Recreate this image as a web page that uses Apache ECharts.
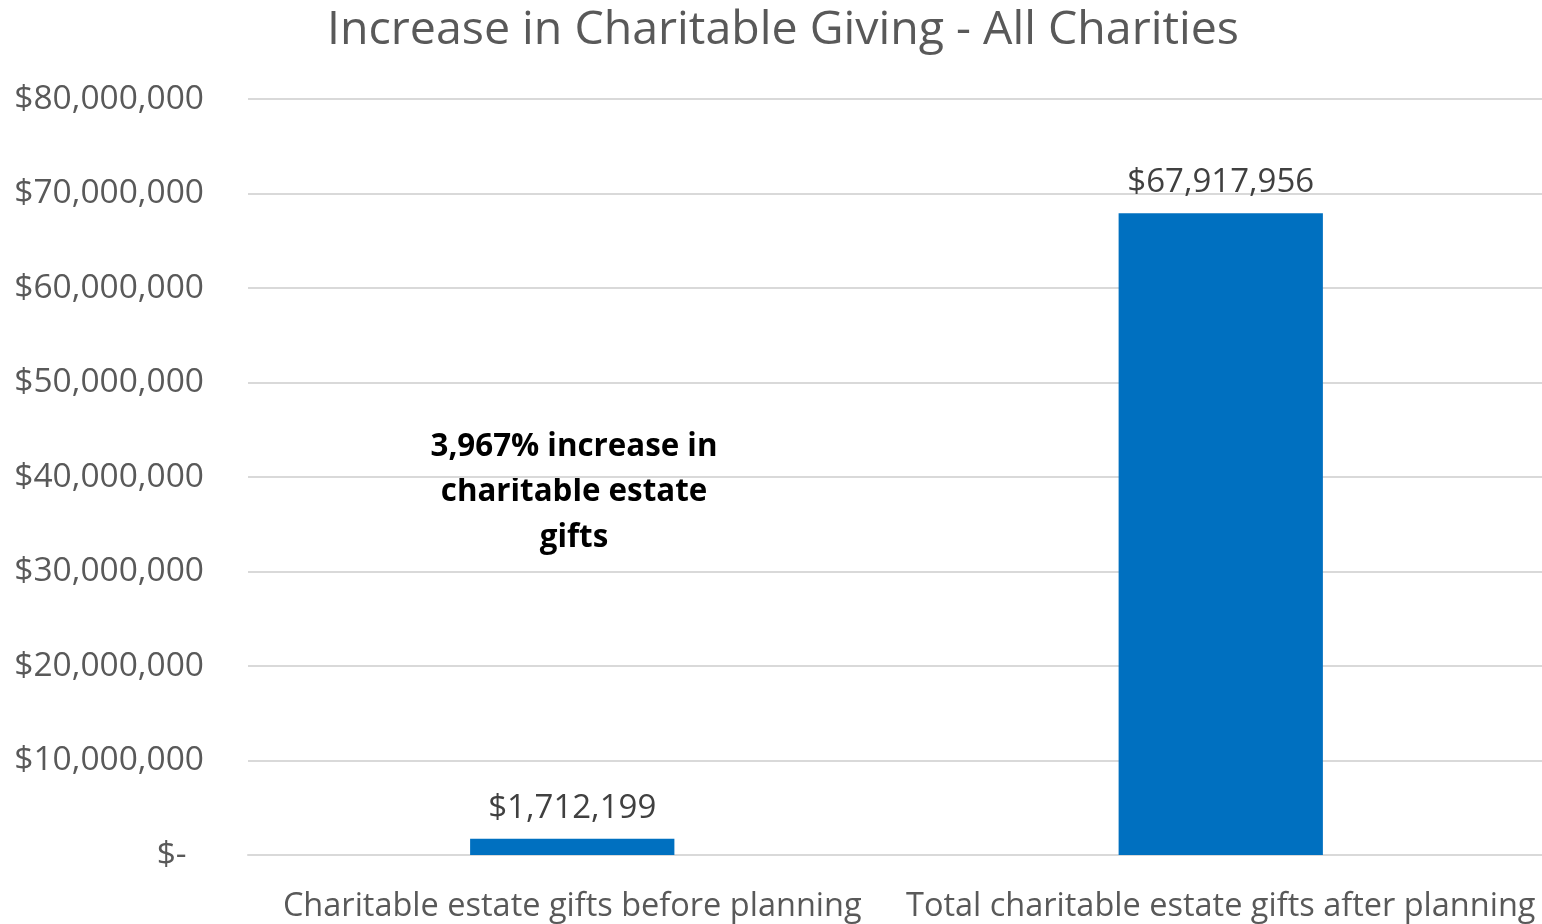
<!DOCTYPE html>
<html>
<head>
<meta charset="utf-8">
<title>Increase in Charitable Giving - All Charities</title>
<script src="https://cdn.jsdelivr.net/npm/echarts@6/dist/echarts.min.js"></script>
<style>
  html, body { margin: 0; padding: 0; background: #ffffff; }
  #chart { width: 1542px; height: 924px; }
</style>
</head>
<body>
<div id="chart"></div>
<script>
// Chart content
const chartTitle = 'Increase in Charitable Giving - All Charities';
const categories = [
  'Charitable estate gifts before planning',
  'Total charitable estate gifts after planning'
];
const giftValues = [1712199, 67917956];
const yTicks = [0, 10000000, 20000000, 30000000, 40000000, 50000000, 60000000, 70000000, 80000000];
const noteLines = ['3,967% increase in', 'charitable estate', 'gifts'];

const FONT = '"Open Sans", "Liberation Sans", sans-serif';
const GRID_COLOR = '#d9d9d9';

function money(v) {
  if (v === 0) return '$-  ';
  return '$' + Math.round(v).toLocaleString('en-US');
}

const chart = echarts.init(document.getElementById('chart'), null, { renderer: 'canvas' });

chart.setOption({
  backgroundColor: '#ffffff',
  animation: false,
  title: {
    text: chartTitle,
    left: 778,
    top: 2,
    textAlign: 'center',
    textStyle: { fontFamily: FONT, fontSize: 46.5, fontWeight: 'normal', color: '#595959' }
  },
  grid: {
    left: 248, right: -3, top: 99, bottom: 69,
    containLabel: false,
    outerBoundsMode: 'none'
  },
  xAxis: {
    type: 'category',
    data: categories,
    axisTick: { show: false },
    axisLine: { show: true, lineStyle: { color: GRID_COLOR, width: 2 } },
    axisLabel: {
      interval: 0,
      margin: 35,
      fontFamily: FONT,
      fontSize: 32.5,
      color: '#595959'
    }
  },
  yAxis: {
    type: 'value',
    min: yTicks[0],
    max: yTicks[yTicks.length - 1],
    interval: yTicks[1] - yTicks[0],
    axisLine: { show: false },
    axisTick: { show: false },
    splitLine: { lineStyle: { color: GRID_COLOR, width: 2 } },
    axisLabel: {
      margin: 44,
      fontFamily: FONT,
      fontSize: 33.5,
      color: '#595959',
      padding: [3, 0, 0, 0],
      formatter: money
    }
  },
  series: [{
    type: 'bar',
    data: giftValues,
    barWidth: '31.5%',
    itemStyle: { color: '#0070c0' },
    label: {
      show: true,
      position: 'top',
      distance: 14,
      fontFamily: FONT,
      fontSize: 33,
      color: '#404040',
      formatter: p => money(p.value)
    }
  }],
  graphic: [{
    type: 'text',
    x: 574,
    y: 424,
    style: {
      text: noteLines.join('\n'),
      fontFamily: FONT,
      fontSize: 31.3,
      fontWeight: 'bold',
      lineHeight: 45.5,
      fill: '#000000',
      align: 'center',
      verticalAlign: 'top'
    }
  }]
});
</script>
</body>
</html>
